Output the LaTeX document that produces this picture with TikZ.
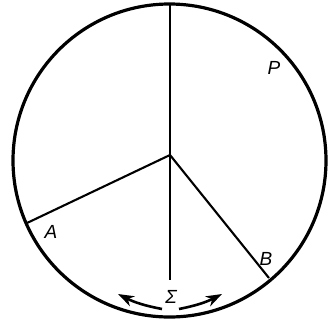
\documentclass[tikz,border=0pt]{standalone}
\usepackage{fontspec}
\setmainfont{Liberation Sans}
\usetikzlibrary{arrows.meta}
\begin{document}
\begin{tikzpicture}[x=1pt,y=-1pt,
  rim/.style={line width=3.2pt},
  seg/.style={line width=2.1pt},
  lab/.style={font=\fontsize{19}{19}\selectfont\itshape, inner sep=0pt},
  sarrow/.style={line width=2.6pt, -{Stealth[length=16pt,width=11pt,inset=5pt]}}]
\useasboundingbox (0,0) rectangle (329,322);
\coordinate (O) at (170,155);
\coordinate (C) at (169.5,160.5);
\coordinate (T) at (170,4);
\coordinate (D) at (170,280);
\coordinate (Ae) at (27,223);
\coordinate (Be) at (269,278);
\draw[rim] (C) circle[radius=156.5];
\draw[seg] (T) -- (O);
\draw[seg] (O) -- (D);
\draw[seg] (O) -- (Ae);
\draw[seg] (O) -- (Be);
\node[lab] (A) at (51,232) {A};
\node[lab] (B) at (266,259) {B};
\node[lab] (P) at (274,68) {P};
\node[lab] (S) at (171,297) {Σ};
\coordinate (L0) at (162,309);
\coordinate (L1) at (118,294);
\coordinate (R0) at (179,309);
\coordinate (R1) at (222,294);
\draw[sarrow] (L0) to[bend left=8] (L1);
\draw[sarrow] (R0) to[bend right=8] (R1);
\end{tikzpicture}
\end{document}
